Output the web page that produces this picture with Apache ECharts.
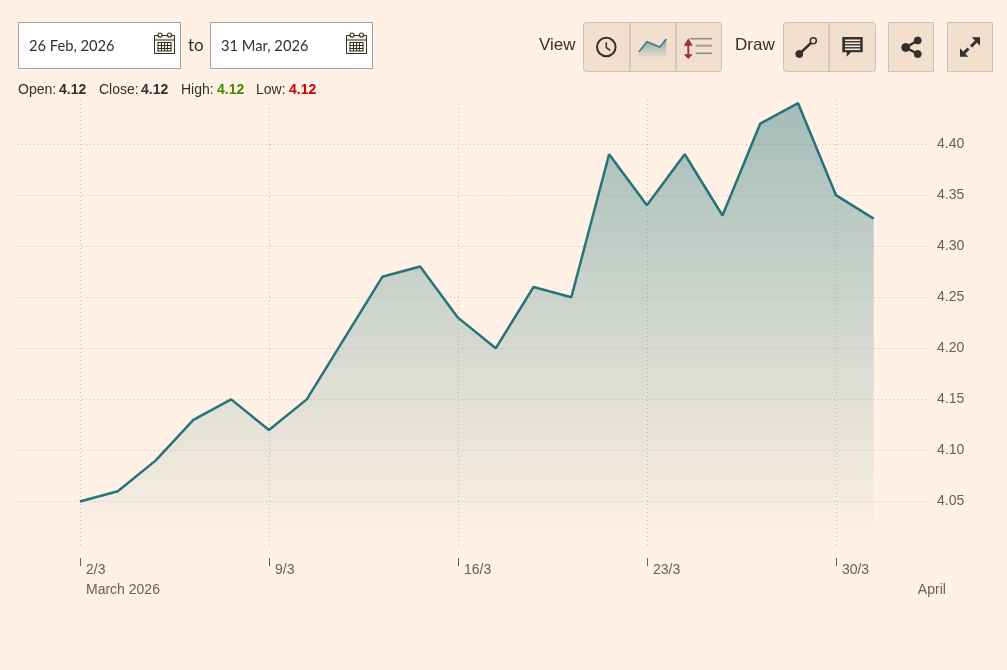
<!DOCTYPE html>
<html><head><meta charset="utf-8">
<style>html,body{margin:0;padding:0;background:#fff1e5;overflow:hidden}#c{width:1007px;height:670px}</style>
<script src="https://cdn.jsdelivr.net/npm/echarts@6/dist/echarts.min.js"></script>
</head><body><div id="c"></div>
<script>
const dates = ['2/3','3/3','4/3','5/3','6/3','9/3','10/3','11/3','12/3','13/3','16/3','17/3','18/3','19/3','20/3','23/3','24/3','25/3','26/3','27/3','30/3','31/3'];
const closes = [4.05,4.06,4.09,4.13,4.15,4.12,4.15,4.21,4.27,4.28,4.23,4.20,4.26,4.25,4.39,4.34,4.39,4.33,4.42,4.44,4.35,4.327];
const xTickIndexes = [0,5,10,15,20];
const yTicks = [4.05,4.10,4.15,4.20,4.25,4.30,4.35,4.40];
const monthLabels = ['March 2026','April'];
const fromDate = '26 Feb, 2026', toDate = '31 Mar, 2026';
const ohlc = [['Open: ','4.12'],['Close: ','4.12'],['High: ','4.12'],['Low: ','4.12']];

const ink='#33302e', btn='#f2dfce', btnB='#ccc1b7', teal='#26747a';
const AF='"Liberation Sans",Arial,sans-serif';
const g=[];
const txt=(x,y,t,size,fill,font,weight)=>g.push({type:'text',x,y,silent:true,style:{text:t,fill,font:`${weight||'normal'} ${size}px ${font||AF}`,textVerticalAlign:'middle'}});
const rect=(x,y,w,h,fill,stroke,r)=>g.push({type:'rect',shape:{x,y,width:w,height:h,r:r||0},silent:true,style:{fill,stroke,lineWidth:1}});
const line=(x1,y1,x2,y2,stroke,w)=>g.push({type:'line',shape:{x1,y1,x2,y2},silent:true,style:{stroke,lineWidth:w||1}});
const circ=(cx,cy,r,fill,stroke,w)=>g.push({type:'circle',shape:{cx,cy,r},silent:true,style:{fill:fill||'transparent',stroke,lineWidth:w||1}});
const poly=(points,fill)=>g.push({type:'polygon',shape:{points},silent:true,style:{fill}});
const pline=(points,stroke,w)=>g.push({type:'polyline',shape:{points},silent:true,style:{stroke,lineWidth:w,fill:'none'}});

function calendar(x){
  rect(x+.5,35.5,20,18,'#fdf6ec','#33302e');
  rect(x+.5,35.5,20,4.5,'#f7e9d6','#33302e');
  circ(x+6,35,2,'#fff','#33302e',1.2);circ(x+15.5,35,2,'#fff','#33302e',1.2);
  for(const y of [42.5,45.5,48.5,51])line(x+3.5,y,x+17.5,y,'#33302e');
  for(const xx of [4,7.5,10.5,13.5,17])line(x+xx,42,x+xx,51,'#33302e');
}
rect(18.5,22.5,162,46,'#fff','#a89f98');
rect(210.5,22.5,162,46,'#fff','#a89f98');
txt(29,46.5,fromDate,14.7,ink,'Lato');
txt(221,46.5,toDate,14.7,ink,'Lato');
txt(188,46,'to',17,ink,'Lato');
calendar(154);calendar(346);
let ox=[18,99,181,256], vx=[59,141,217,289], vc=[ink,ink,'#458b00','#cc0000'];
ohlc.forEach((o,i)=>{txt(ox[i],90,o[0],14,ink);txt(vx[i],90,o[1],14,vc[i],AF,'bold');});

txt(539,45,'View',17,ink);
txt(735,45,'Draw',17,ink);
rect(583.5,22.5,138,49,btn,btnB,3);
line(630,23,630,71,btnB,1.5);line(676,23,676,71,btnB,1.5);
rect(783.5,22.5,92,49,btn,btnB,3);
line(829,23,829,71,btnB,1.5);
rect(888.5,22.5,45,49,btn,btnB);
rect(947.5,22.5,45,49,btn,btnB);
// clock
circ(606.3,47,9.3,null,ink,2);
pline([[606.3,42.3],[606.3,47.7],[610.3,50.3]],ink,1.5);
// area icon
g.push({type:'polygon',shape:{points:[[639,51.7],[647,41.7],[659.7,47],[666.3,39],[666.3,58],[639,58]]},silent:true,
  style:{fill:{type:'linear',x:0,y:0,x2:0,y2:1,colorStops:[{offset:0,color:'rgba(38,116,122,.5)'},{offset:1,color:'rgba(38,116,122,0)'}]}}});
pline([[639,51.7],[647,41.7],[659.7,47],[666.3,39]],'#2a7f85',1.5);
// line-spacing icon
line(690,38.7,712,38.7,'#8f8a86',1.5);line(695.7,45.7,712,45.7,'#a39d97',2);line(695.7,53.3,712,53.3,'#8f8a86',1.5);
line(688.3,44,688.3,55,'#9e2f50',2);
poly([[683.8,45.7],[692.8,45.7],[688.3,38.3]],'#9e2f50');poly([[683.8,54.3],[692.8,54.3],[688.3,59]],'#9e2f50');
// draw line icon
line(799.3,54,811.5,42.5,ink,2.5);circ(799.3,54,3.5,ink,ink);circ(813.3,40.7,3,btn,ink,1.5);
// comment icon
g.push({type:'polygon',shape:{points:[[842.3,37],[862.7,37],[862.7,52.3],[851,52.3],[846.7,56.7],[846.7,52.3],[842.3,52.3]]},silent:true,style:{fill:ink}});
for(const y of [40.3,43.3,46.3,49.3])line(845,y,860.3,y,'#f7e9da',1.6);
// share
line(905.7,47.5,917.7,40.5,ink,2.5);line(905.7,47.5,917.7,54,ink,2.5);
circ(905.7,47.5,4,ink,ink);circ(917.7,40.5,3.5,ink,ink);circ(917.7,54,3.5,ink,ink);
// expand
line(977,40.5,971,46.5,ink,3);line(963,54,968.5,48.5,ink,3);
poly([[971.7,37.3],[980,37.3],[980,45.7]],ink);poly([[960,48.3],[960,56.7],[968.3,56.7]],ink);

const dot=[1,3];
const chart=echarts.init(document.getElementById('c'),null,{width:1007,height:670,devicePixelRatio:1});
const labelVals=xTickIndexes.concat([22.01]);
chart.setOption({
  backgroundColor:'#fff1e5',animation:false,
  graphic:g,
  grid:{left:18,right:77,top:100,bottom:125},
  xAxis:{type:'value',min:-1.64,max:22.49,offset:13,
    axisLine:{show:false},
    axisTick:{show:true,inside:false,length:8,customValues:xTickIndexes,lineStyle:{color:'#66605c',width:1}},
    splitLine:{show:true,lineStyle:{color:'#c9bfb5',type:dot,width:1}},
    axisLabel:{customValues:labelVals,hideOverlap:false,showMinLabel:true,showMaxLabel:true,align:'left',margin:2,padding:[0,0,0,6],lineHeight:20,color:'#66605c',fontSize:14,fontFamily:AF,
      formatter:v=>{
        if(v===22.01)return '\n'+monthLabels[1];
        const t=dates[v];return v===0?t+'\n'+monthLabels[0]:t+'\n ';
      }}
  },
  yAxis:{type:'value',position:'right',min:4.0074,max:4.4431,
    axisLine:{show:false},
    axisTick:{show:false,customValues:yTicks},
    splitLine:{show:true,lineStyle:{color:'#c9bfb5',type:dot,width:1}},
    axisLabel:{customValues:yTicks,margin:7,padding:[4,0,0,0],color:'#66605c',fontSize:14,fontFamily:AF,formatter:v=>v.toFixed(2),showMinLabel:true,showMaxLabel:true}
  },
  series:[{type:'line',data:closes.map((v,i)=>[i,v]),symbol:'none',smooth:false,clip:false,
    lineStyle:{color:teal,width:2.5},
    areaStyle:{origin:'start',opacity:1,color:{type:'linear',x:0,y:0,x2:0,y2:1,colorStops:[{offset:0,color:'rgba(38,116,122,0.42)'},{offset:1,color:'rgba(38,116,122,0)'}]}}}]
});
</script></body></html>
